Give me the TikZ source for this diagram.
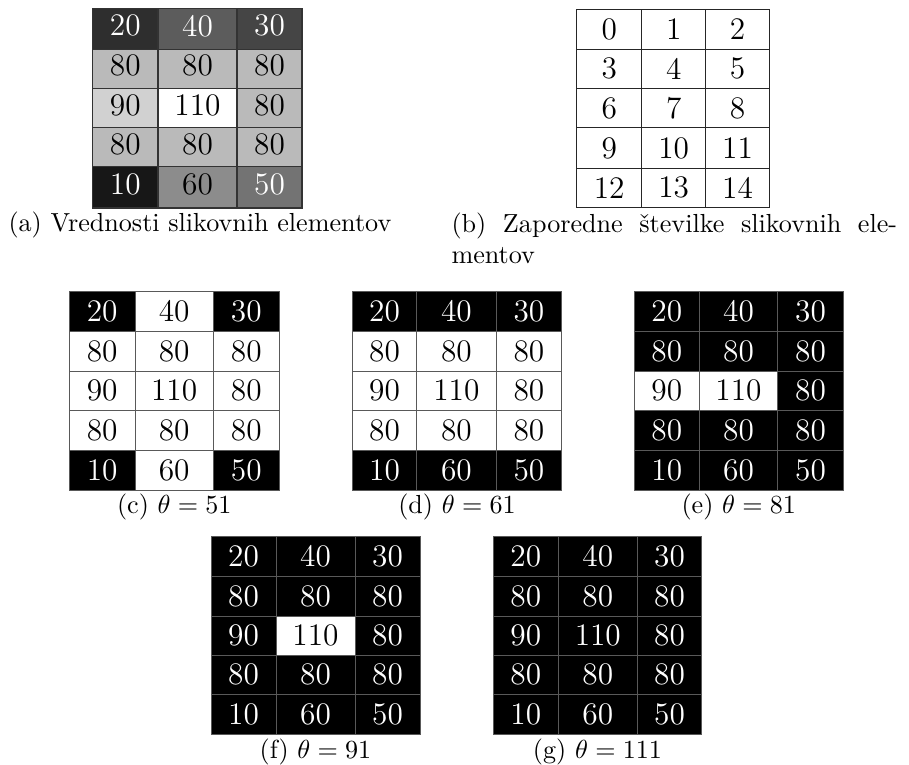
\documentclass[tikz,border=0pt]{standalone}
\usepackage{fontspec}
\tikzset{
  cellnum/.style={font=\fontsize{12}{14}\selectfont, inner sep=0pt, anchor=center},
  caption/.style={font=\fontsize{10}{12}\selectfont, inner sep=0pt},
  greyline/.style={draw=black!80, line width=0.6pt},
  indexline/.style={draw=black!85, line width=0.55pt},
  binline/.style={draw=black!65, line width=0.35pt}
}
% #1 name, #2 x list, #3 y list, #4 grey levels, #5 labels, #6 text shift (px), #7 line style
\newcommand{\drawpixgrid}[7]{%
  \foreach \r in {0,...,4}{%
    \foreach \c in {0,1,2}{%
      \pgfmathtruncatemacro{\k}{3*\r+\c}%
      \pgfmathsetmacro{\xa}{{#2}[\c]}%
      \pgfmathsetmacro{\xb}{{#2}[\c+1]}%
      \pgfmathsetmacro{\ya}{{#3}[\r]}%
      \pgfmathsetmacro{\yb}{{#3}[\r+1]}%
      \pgfmathsetmacro{\g}{{#4}[\k]}%
      \pgfmathtruncatemacro{\gp}{round(100*\g)}%
      \pgfmathtruncatemacro{\lab}{{#5}[\k]}%
      \pgfmathtruncatemacro{\dark}{\g<0.5}%
      \ifnum\dark=1 \def\tc{white}\else\def\tc{black}\fi
      \fill[white!\gp!black] (\xa,\ya) rectangle (\xb,\yb);
      \node[cellnum, text=\tc] (#1-\r-\c) at ({(\xa+\xb)/2},{(\ya+\yb)/2+#6}) {\lab};
    }%
  }%
  \foreach \i in {1,2}{%
    \pgfmathsetmacro{\xx}{{#2}[\i]}%
    \pgfmathsetmacro{\ya}{{#3}[0]}%
    \pgfmathsetmacro{\yb}{{#3}[5]}%
    \draw[#7] (\xx,\ya) -- (\xx,\yb);
  }%
  \foreach \j in {1,...,4}{%
    \pgfmathsetmacro{\yy}{{#3}[\j]}%
    \pgfmathsetmacro{\xa}{{#2}[0]}%
    \pgfmathsetmacro{\xb}{{#2}[3]}%
    \draw[#7] (\xa,\yy) -- (\xb,\yy);
  }%
  \pgfmathsetmacro{\xa}{{#2}[0]}%
  \pgfmathsetmacro{\xb}{{#2}[3]}%
  \pgfmathsetmacro{\ya}{{#3}[0]}%
  \pgfmathsetmacro{\yb}{{#3}[5]}%
  \draw[#7] (\xa,\ya) rectangle (\xb,\yb);
}
\def\vals{20,40,30,80,80,80,90,110,80,80,80,80,10,60,50}
\begin{document}
\begin{tikzpicture}[x=0.38284pt, y=-0.38284pt]
\useasboundingbox (0,0) rectangle (909,764);

% (a) values
\drawpixgrid{a}{92.7,158,237,302}{8.3,49.3,88.3,127.7,166.7,208}
  {0.1818,0.3636,0.2727,0.7273,0.7273,0.7273,0.8182,1,0.7273,0.7273,0.7273,0.7273,0.0909,0.5455,0.4545}
  {\vals}{-3}{greyline}
% (b) indices
\drawpixgrid{b}{576.7,641.7,705.7,769.3}{9.3,49.3,88.3,127.7,168.3,207.3}
  {1,1,1,1,1,1,1,1,1,1,1,1,1,1,1}
  {0,1,2,3,4,5,6,7,8,9,10,11,12,13,14}{0}{indexline}

\node[caption, anchor=base west] (capa) at (8,231.5) {(a)~Vrednosti slikovnih elementov};
\node[caption, anchor=north west, text width=170.6pt, align=justify] (capb) at (451,211.9)
  {(b)~Zaporedne številke slikovnih ele-\linebreak mentov};

% (c) theta = 51
\drawpixgrid{c}{69.3,135,213.3,279.3}{291.7,331.7,371,410,450,490.7}
  {0,1,0,1,1,1,1,1,1,1,1,1,0,1,0}{\vals}{0}{binline}
% (d) theta = 61
\drawpixgrid{d}{352.3,416.7,496,561.7}{291.7,331.7,371,410,450,490.7}
  {0,0,0,1,1,1,1,1,1,1,1,1,0,0,0}{\vals}{0}{binline}
% (e) theta = 81
\drawpixgrid{e}{634.3,699.3,777.7,843.3}{291.7,331.7,371,410,450,490.7}
  {0,0,0,0,0,0,1,1,0,0,0,0,0,0,0}{\vals}{0}{binline}
% (f) theta = 91
\drawpixgrid{f}{211,276,355,420}{536.7,576,616,655,694,734}
  {0,0,0,0,0,0,0,1,0,0,0,0,0,0,0}{\vals}{0}{binline}
% (g) theta = 111
\drawpixgrid{g}{493.3,558.3,637.3,701.7}{536.7,576,616,655,694,734}
  {0,0,0,0,0,0,0,0,0,0,0,0,0,0,0}{\vals}{0}{binline}

\node[caption, anchor=base] (capc) at (174.3,513) {(c)~$\theta = 51$};
\node[caption, anchor=base] (capd) at (457,513) {(d)~$\theta = 61$};
\node[caption, anchor=base] (cape) at (738.8,513) {(e)~$\theta = 81$};
\node[caption, anchor=base] (capf) at (315.5,758) {(f)~$\theta = 91$};
\node[caption, anchor=base] (capg) at (597.5,758) {(g)~$\theta = 111$};
\end{tikzpicture}
\end{document}
